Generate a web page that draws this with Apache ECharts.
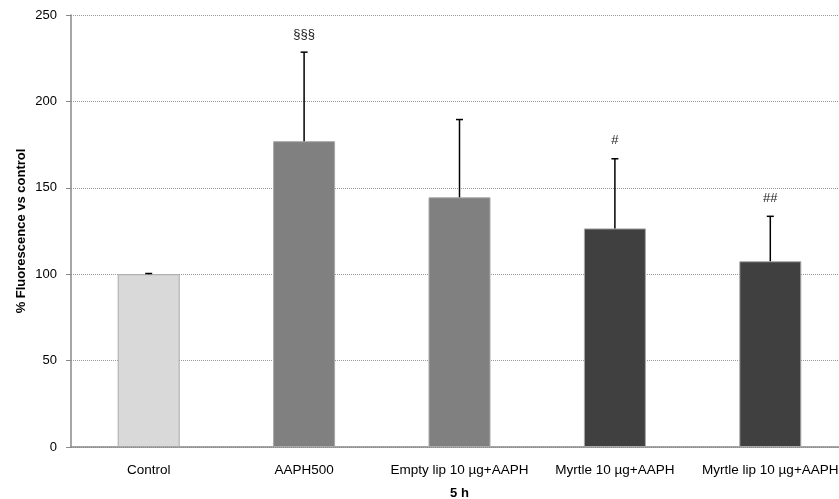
<!DOCTYPE html>
<html><head><meta charset="utf-8">
<script src="https://cdn.jsdelivr.net/npm/echarts@6/dist/echarts.min.js"></script>
<style>html,body{margin:0;padding:0;background:#fff;overflow:hidden}#chart{width:839px;height:499px}</style>
</head><body><div id="chart"></div>
<script>
// Fluorescence after 5 h, relative to control (mean and SD)
const categories = ['Control', 'AAPH500', 'Empty lip 10 µg+AAPH', 'Myrtle 10 µg+AAPH', 'Myrtle lip 10 µg+AAPH'];
const means = [100, 177, 144.5, 126.5, 107.5];
const sds = [0.4, 51.5, 45, 40.3, 26];
const marks = ['', '§§§', '', '#', '##'];
const barColors = ['#d9d9d9', '#808080', '#808080', '#404040', '#404040'];

const FONT = '"Liberation Sans", Arial, sans-serif';

const chart = echarts.init(document.getElementById('chart'));
chart.setOption({
  animation: false,
  backgroundColor: '#fff',
  // the plot area runs a little past the right edge of the canvas
  grid: { left: 71, right: -9, top: 15, bottom: 52, outerBoundsMode: 'none' },
  xAxis: {
    type: 'category',
    data: categories,
    name: '5 h',
    nameLocation: 'middle',
    nameGap: 40,
    nameTextStyle: { fontFamily: FONT, fontSize: 13, fontWeight: 'bold', color: '#000' },
    axisLine: { lineStyle: { color: '#888', width: 1.5 } },
    axisTick: { show: false },
    axisLabel: { fontFamily: FONT, fontSize: 13.5, color: '#000', margin: 16, interval: 0 }
  },
  yAxis: {
    type: 'value',
    min: 0, max: 250, interval: 50,
    name: '% Fluorescence vs control',
    nameLocation: 'middle',
    nameGap: 43,
    nameMoveOverlap: false,
    nameTextStyle: { fontFamily: FONT, fontSize: 13, fontWeight: 'bold', color: '#000' },
    axisLine: { show: true, lineStyle: { color: '#888', width: 1.5 } },
    axisTick: { show: true, length: 5, lineStyle: { color: '#888' } },
    axisLabel: { fontFamily: FONT, fontSize: 13, color: '#000', margin: 14 },
    splitLine: { lineStyle: { color: '#999', type: [1, 1], width: 1 } }
  },
  series: [
    {
      type: 'bar',
      barWidth: 62,
      data: means.map((v, i) => ({
        value: v,
        itemStyle: { color: barColors[i], borderColor: '#a8a8a8', borderWidth: 1 }
      }))
    },
    {
      type: 'custom',
      z: 5,
      data: means.map((v, i) => [i, v, sds[i]]),
      renderItem: function (params, api) {
        const i = api.value(0);
        const m = api.value(1);
        const s = api.value(2);
        const base = api.coord([i, m]);
        const top = api.coord([i, m + s]);
        const cap = 3.5;
        const children = [
          { type: 'line', shape: { x1: base[0], y1: base[1], x2: top[0], y2: top[1] }, style: { stroke: '#000', lineWidth: 1.5 } },
          { type: 'line', shape: { x1: top[0] - cap, y1: top[1], x2: top[0] + cap, y2: top[1] }, style: { stroke: '#000', lineWidth: 1.5 } }
        ];
        const mark = marks[params.dataIndex];
        if (mark) {
          children.push({
            type: 'text',
            x: top[0], y: top[1] - 18,
            style: { text: mark, align: 'center', verticalAlign: 'middle', fontFamily: FONT, fontSize: 13, fill: '#222' }
          });
        }
        return { type: 'group', children: children };
      }
    }
  ]
});
</script>
</body></html>
